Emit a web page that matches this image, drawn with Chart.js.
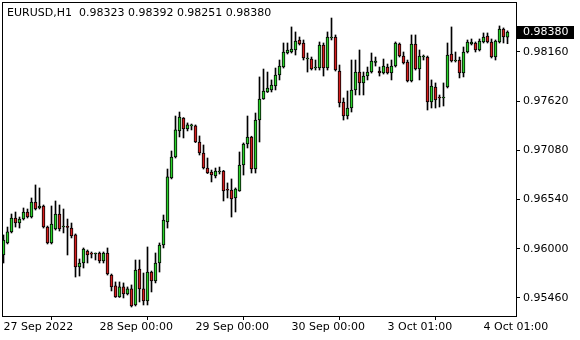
<!DOCTYPE html>
<html><head><meta charset="utf-8">
<script src="https://cdn.jsdelivr.net/npm/chart.js@4/dist/chart.umd.min.js"></script>
<style>html,body{margin:0;padding:0;background:#fff;}#wrap{width:580px;height:340px;position:relative;}</style>
</head><body><div id="wrap"><canvas id="c" width="580" height="340"></canvas></div>
<script>
const symbolName = "EURUSD,H1";
const opens = [0.95931,0.96063,0.96184,0.96337,0.96282,0.96326,0.96403,0.96348,0.96513,0.96447,
0.96469,0.96238,0.96063,0.96216,0.96381,0.96238,0.96238,0.96227,0.96151,0.95799,
0.95843,0.95975,0.95942,0.95942,0.95953,0.95865,0.95953,0.95711,0.95591,0.95470,
0.95580,0.95503,0.95558,0.95382,0.95777,0.95558,0.95426,0.95744,0.95646,0.95843,
0.96041,0.96293,0.96777,0.97007,0.97293,0.97435,0.97315,0.97348,0.97348,0.97172,
0.97051,0.96886,0.96842,0.96798,0.96842,0.96853,0.96645,0.96645,0.96557,0.96634,
0.96919,0.97150,0.97227,0.96875,0.97413,0.97644,0.97721,0.97743,0.97787,0.97907,
0.97995,0.98149,0.98160,0.98182,0.98292,0.98259,0.98083,0.98083,0.97984,0.97984,
0.98237,0.97984,0.98314,0.98325,0.97951,0.97611,0.97457,0.97545,0.97743,0.97940,
0.97820,0.97896,0.97940,0.98045,0.97951,0.97929,0.97995,0.97929,0.98006,0.98248,
0.98116,0.98050,0.97842,0.98248,0.97973,0.98105,0.98105,0.97611,0.97776,0.97666,
0.97655,0.97776,0.98138,0.98061,0.98072,0.97929,0.98160,0.98248,0.98259,0.98182,
0.98270,0.98336,0.98270,0.98105,0.98270,0.98413,0.98323];
const highs = [0.96151,0.96238,0.96381,0.96403,0.96348,0.96447,0.96436,0.96557,0.96700,0.96667,
0.96480,0.96249,0.96469,0.96524,0.96480,0.96436,0.96326,0.96282,0.96162,0.95887,
0.96008,0.95986,0.95964,0.95953,0.95964,0.95964,0.96008,0.95722,0.95635,0.95635,
0.95624,0.95580,0.95602,0.95876,0.95876,0.95733,0.96019,0.95755,0.95953,0.96063,
0.96370,0.96875,0.97073,0.97457,0.97501,0.97440,0.97381,0.97369,0.97359,0.97238,
0.97139,0.96996,0.96864,0.96886,0.96897,0.96860,0.96722,0.96766,0.96667,0.97062,
0.97161,0.97457,0.97235,0.97490,0.97886,0.97973,0.97940,0.97853,0.97984,0.98072,
0.98259,0.98259,0.98435,0.98380,0.98325,0.98292,0.98149,0.98105,0.98072,0.98270,
0.98259,0.98380,0.98533,0.98347,0.98017,0.97655,0.97732,0.98072,0.98072,0.98182,
0.97940,0.97995,0.98149,0.98105,0.97995,0.98083,0.98028,0.98072,0.98270,0.98259,
0.98160,0.98072,0.98347,0.98347,0.98182,0.98127,0.98116,0.97853,0.97820,0.97688,
0.97820,0.98259,0.98435,0.98160,0.98105,0.98215,0.98292,0.98303,0.98270,0.98303,
0.98369,0.98369,0.98303,0.98292,0.98446,0.98424,0.98392];
const lows = [0.95843,0.96052,0.96173,0.96238,0.96227,0.96315,0.96337,0.96337,0.96425,0.96436,
0.96227,0.96052,0.96052,0.96205,0.96194,0.96173,0.95931,0.96118,0.95689,0.95700,
0.95788,0.95843,0.95898,0.95876,0.95843,0.95843,0.95711,0.95536,0.95465,0.95465,
0.95459,0.95492,0.95360,0.95371,0.95415,0.95382,0.95382,0.95525,0.95624,0.95744,
0.96008,0.96227,0.96766,0.96996,0.97227,0.97216,0.97293,0.97304,0.97165,0.97029,
0.96875,0.96825,0.96733,0.96777,0.96820,0.96524,0.96557,0.96348,0.96403,0.96630,
0.96809,0.97106,0.96831,0.96831,0.97172,0.97640,0.97715,0.97721,0.97743,0.97853,
0.97984,0.98138,0.98149,0.98127,0.98237,0.98072,0.97940,0.97962,0.97962,0.97962,
0.97896,0.97962,0.98292,0.97951,0.97556,0.97413,0.97424,0.97501,0.97688,0.97688,
0.97688,0.97853,0.97929,0.98006,0.97896,0.97918,0.97918,0.97853,0.97995,0.98105,
0.98028,0.97831,0.97831,0.97962,0.97853,0.98072,0.97523,0.97545,0.97545,0.97556,
0.97567,0.97765,0.98050,0.98050,0.97875,0.97886,0.98149,0.98237,0.98160,0.98171,
0.98259,0.98259,0.98094,0.98072,0.98259,0.98259,0.98251];
const closes = [0.96096,0.96184,0.96337,0.96282,0.96326,0.96403,0.96348,0.96513,0.96436,0.96469,
0.96238,0.96063,0.96271,0.96381,0.96216,0.96240,0.96235,0.96140,0.95799,0.95843,
0.95997,0.95931,0.95940,0.95944,0.95865,0.95953,0.95722,0.95580,0.95470,0.95580,
0.95503,0.95558,0.95371,0.95766,0.95558,0.95426,0.95744,0.95646,0.95843,0.96041,
0.96315,0.96788,0.97007,0.97304,0.97446,0.97315,0.97359,0.97350,0.97172,0.97051,
0.96886,0.96831,0.96809,0.96853,0.96845,0.96634,0.96642,0.96546,0.96656,0.96919,
0.97150,0.97227,0.96875,0.97413,0.97644,0.97732,0.97765,0.97798,0.97907,0.98006,
0.98160,0.98182,0.98193,0.98281,0.98248,0.98094,0.98085,0.97973,0.97986,0.98237,
0.97984,0.98325,0.98316,0.97962,0.97600,0.97457,0.97545,0.97743,0.97940,0.97820,
0.97896,0.97940,0.98061,0.98061,0.97929,0.98006,0.97929,0.98006,0.98259,0.98116,
0.98039,0.97842,0.98248,0.97973,0.98116,0.98107,0.97611,0.97787,0.97633,0.97655,
0.97657,0.98127,0.98061,0.98063,0.97929,0.98160,0.98270,0.98270,0.98182,0.98281,
0.98325,0.98270,0.98105,0.98281,0.98413,0.98325,0.98380];
const tickLabels = ["27 Sep 2022","28 Sep 00:00","29 Sep 00:00","30 Sep 00:00","3 Oct 01:00","4 Oct 01:00"];
const tickBars = [0,24,48,72,96,120];
const priceTicks = [0.98160,0.97620,0.97080,0.96540,0.96000,0.95460];

const bullColor = '#2ad22a', bearColor = '#d41e1e';
const FONT = {family:'"DejaVu Sans"', size:11};

const wickData = opens.map((o,i)=>({x:i, y:[lows[i], highs[i]]}));
const bodyData = opens.map((o,i)=>({x:i, y:[o, closes[i]]}));
const bodyColors = opens.map((o,i)=> closes[i] >= o ? bullColor : bearColor);

const last = opens.length - 1;
function zeroPad(s){ s.paddingLeft = 0; s.paddingRight = 0; s.paddingTop = 0; s.paddingBottom = 0; }
const framePlugin = {
  id:'frame',
  afterDraw(chart){
    const {ctx, chartArea:a} = chart;
    ctx.save();
    ctx.strokeStyle = '#000'; ctx.lineWidth = 1;
    ctx.strokeRect(a.left+0.5, a.top+0.5, a.right-a.left, a.bottom-a.top);
    ctx.font = '11px "DejaVu Sans"';
    ctx.textBaseline = 'middle'; ctx.textAlign = 'left';
    ctx.fillStyle = '#000';
    const hdr = symbolName + '  ' + [opens[last], highs[last], lows[last], closes[last]].map(v=>v.toFixed(5)).join(' ');
    ctx.fillText(hdr, 7, 13);
    const yp = Math.round(chart.scales.y.getPixelForValue(closes[last]));
    ctx.fillStyle = '#000';
    ctx.fillRect(a.right+1, yp-6, 57, 13);
    ctx.fillStyle = '#fff';
    ctx.fillText(closes[last].toFixed(5), a.right+7, yp+0.5);
    ctx.restore();
  }
};

new Chart(document.getElementById('c'), {
  type:'bar',
  data:{datasets:[
    {label:'wick', data:wickData, backgroundColor:'#000', barThickness:1, grouped:false, order:2, borderWidth:0},
    {label:'body', data:bodyData, backgroundColor:bodyColors, borderColor:'#000', borderWidth:1, borderSkipped:false, barThickness:3, grouped:false, order:1, minBarLength:1}
  ]},
  options:{
    responsive:false, animation:false, devicePixelRatio:1,
    layout:{padding:{left:2, top:2, right:0, bottom:0}},
    plugins:{legend:{display:false}, tooltip:{enabled:false}},
    scales:{
      x:{type:'linear', position:'bottom', min:-0.375, max:128.125, offset:false,
        afterBuildTicks(s){ s.ticks = tickBars.map(v=>({value:v})); },
        afterFit(s){ s.height = 24; zeroPad(s); },
        ticks:{autoSkip:false, maxRotation:0, align:'start', padding:1, color:'#000', font:FONT,
          callback:(v)=> tickLabels[tickBars.indexOf(v)]},
        grid:{drawOnChartArea:false, drawTicks:true, tickLength:4, color:'#000'},
        border:{display:false}
      },
      y:{type:'linear', position:'right', min:0.95261, max:0.98709,
        afterBuildTicks(s){ s.ticks = priceTicks.map(v=>({value:v})); },
        afterFit(s){ s.width = 64; zeroPad(s); },
        ticks:{padding:3, color:'#000', font:FONT, callback:(v)=> Number(v).toFixed(5)},
        grid:{drawOnChartArea:false, drawTicks:true, tickLength:4, color:'#000'},
        border:{display:false}
      }
    }
  },
  plugins:[framePlugin]
});
</script></body></html>
